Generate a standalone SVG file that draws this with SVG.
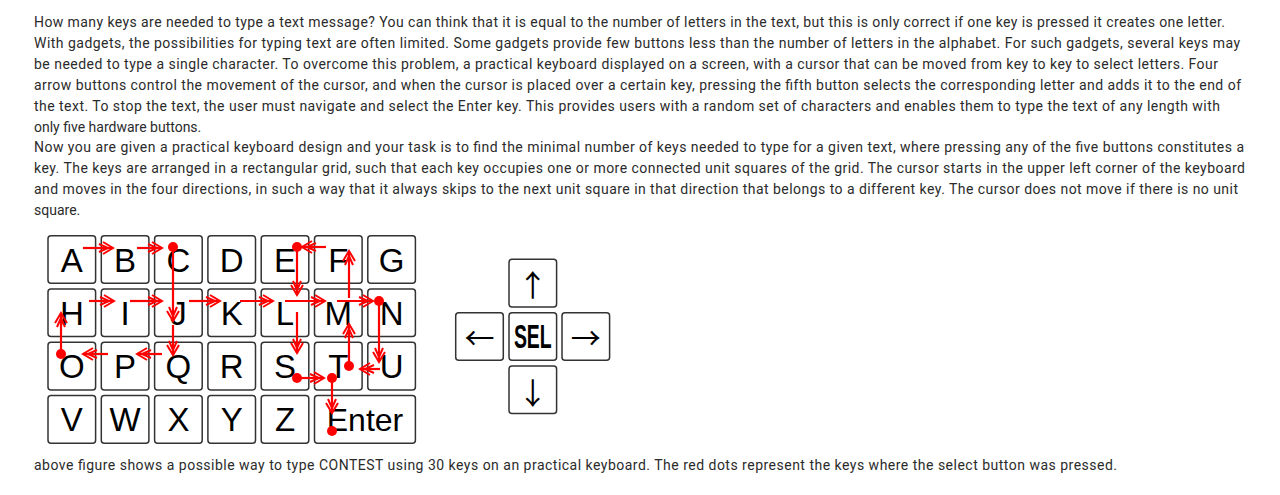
<svg xmlns="http://www.w3.org/2000/svg" width="1280" height="495" viewBox="0 0 1280 495">
<style>
.p{font-family:Roboto,"Liberation Sans",sans-serif;font-size:14px;fill:#2b2b2b}
.k{fill:#fff;stroke:#333;stroke-width:1.5}
.l{font-family:"Liberation Sans",Arial,sans-serif;font-size:33px;fill:#000;text-anchor:middle}
.ar{font-family:"Noto Sans CJK SC","DejaVu Sans",sans-serif;font-size:30px;fill:#000;text-anchor:middle}
.c line{stroke:#f00;stroke-width:2.2;marker-end:url(#ah)}
.d circle{fill:#f00}
</style>
<defs>
<marker id="ah" markerUnits="userSpaceOnUse" viewBox="0 0 12 12" refX="11" refY="6" markerWidth="12" markerHeight="12" orient="auto" overflow="visible">
<path d="M1,0 L11,6 L1,12 M-3,2 L6,6 L-3,10" fill="none" stroke="#f00" stroke-width="2"/>
</marker>
</defs>
<rect width="1280" height="495" fill="#fff"/>
<g id="description">
<text class="p" x="34" y="27" textLength="1191" lengthAdjust="spacing">How many keys are needed to type a text message? You can think that it is equal to the number of letters in the text, but this is only correct if one key is pressed it creates one letter.</text>
<text class="p" x="34" y="48" textLength="1206" lengthAdjust="spacing">With gadgets, the possibilities for typing text are often limited. Some gadgets provide few buttons less than the number of letters in the alphabet. For such gadgets, several keys may</text>
<text class="p" x="34" y="69" textLength="1184" lengthAdjust="spacing">be needed to type a single character. To overcome this problem, a practical keyboard displayed on a screen, with a cursor that can be moved from key to key to select letters. Four</text>
<text class="p" x="34" y="90" textLength="1207" lengthAdjust="spacing">arrow buttons control the movement of the cursor, and when the cursor is placed over a certain key, pressing the fifth button selects the corresponding letter and adds it to the end of</text>
<text class="p" x="34" y="110.5" textLength="1186" lengthAdjust="spacing">the text. To stop the text, the user must navigate and select the Enter key. This provides users with a random set of characters and enables them to type the text of any length with</text>
<text class="p" x="34" y="131.5">only five hardware buttons.</text>
<text class="p" x="34" y="152" textLength="1210" lengthAdjust="spacing">Now you are given a practical keyboard design and your task is to find the minimal number of keys needed to type for a given text, where pressing any of the five buttons constitutes a</text>
<text class="p" x="34" y="173" textLength="1211" lengthAdjust="spacing">key. The keys are arranged in a rectangular grid, such that each key occupies one or more connected unit squares of the grid. The cursor starts in the upper left corner of the keyboard</text>
<text class="p" x="34" y="193.5" textLength="1204" lengthAdjust="spacing">and moves in the four directions, in such a way that it always skips to the next unit square in that direction that belongs to a different key. The cursor does not move if there is no unit</text>
<text class="p" x="34" y="214.5">square.</text>
</g>
<g id="keyboard">
<g id="key-A"><rect class="k" x="48" y="235.7" width="47.6" height="47.6" rx="3"/><text class="l" x="71.8" y="271.5">A</text></g>
<g id="key-B"><rect class="k" x="101.3" y="235.7" width="47.6" height="47.6" rx="3"/><text class="l" x="125.1" y="271.5">B</text></g>
<g id="key-C"><rect class="k" x="154.6" y="235.7" width="47.6" height="47.6" rx="3"/><text class="l" x="178.4" y="271.5">C</text></g>
<g id="key-D"><rect class="k" x="207.9" y="235.7" width="47.6" height="47.6" rx="3"/><text class="l" x="231.7" y="271.5">D</text></g>
<g id="key-E"><rect class="k" x="261.2" y="235.7" width="47.6" height="47.6" rx="3"/><text class="l" x="285" y="271.5">E</text></g>
<g id="key-F"><rect class="k" x="314.5" y="235.7" width="47.6" height="47.6" rx="3"/><text class="l" x="338.3" y="271.5">F</text></g>
<g id="key-G"><rect class="k" x="367.8" y="235.7" width="47.6" height="47.6" rx="3"/><text class="l" x="391.6" y="271.5">G</text></g>
<g id="key-H"><rect class="k" x="48" y="289" width="47.6" height="47.6" rx="3"/><text class="l" x="71.8" y="324.8">H</text></g>
<g id="key-I"><rect class="k" x="101.3" y="289" width="47.6" height="47.6" rx="3"/><text class="l" x="125.1" y="324.8">I</text></g>
<g id="key-J"><rect class="k" x="154.6" y="289" width="47.6" height="47.6" rx="3"/><text class="l" x="178.4" y="324.8">J</text></g>
<g id="key-K"><rect class="k" x="207.9" y="289" width="47.6" height="47.6" rx="3"/><text class="l" x="231.7" y="324.8">K</text></g>
<g id="key-L"><rect class="k" x="261.2" y="289" width="47.6" height="47.6" rx="3"/><text class="l" x="285" y="324.8">L</text></g>
<g id="key-M"><rect class="k" x="314.5" y="289" width="47.6" height="47.6" rx="3"/><text class="l" x="338.3" y="324.8">M</text></g>
<g id="key-N"><rect class="k" x="367.8" y="289" width="47.6" height="47.6" rx="3"/><text class="l" x="391.6" y="324.8">N</text></g>
<g id="key-O"><rect class="k" x="48" y="342.3" width="47.6" height="47.6" rx="3"/><text class="l" x="71.8" y="378.1">O</text></g>
<g id="key-P"><rect class="k" x="101.3" y="342.3" width="47.6" height="47.6" rx="3"/><text class="l" x="125.1" y="378.1">P</text></g>
<g id="key-Q"><rect class="k" x="154.6" y="342.3" width="47.6" height="47.6" rx="3"/><text class="l" x="178.4" y="378.1">Q</text></g>
<g id="key-R"><rect class="k" x="207.9" y="342.3" width="47.6" height="47.6" rx="3"/><text class="l" x="231.7" y="378.1">R</text></g>
<g id="key-S"><rect class="k" x="261.2" y="342.3" width="47.6" height="47.6" rx="3"/><text class="l" x="285" y="378.1">S</text></g>
<g id="key-T"><rect class="k" x="314.5" y="342.3" width="47.6" height="47.6" rx="3"/><text class="l" x="338.3" y="378.1">T</text></g>
<g id="key-U"><rect class="k" x="367.8" y="342.3" width="47.6" height="47.6" rx="3"/><text class="l" x="391.6" y="378.1">U</text></g>
<g id="key-V"><rect class="k" x="48" y="395.6" width="47.6" height="47.6" rx="3"/><text class="l" x="71.8" y="431.4">V</text></g>
<g id="key-W"><rect class="k" x="101.3" y="395.6" width="47.6" height="47.6" rx="3"/><text class="l" x="125.1" y="431.4">W</text></g>
<g id="key-X"><rect class="k" x="154.6" y="395.6" width="47.6" height="47.6" rx="3"/><text class="l" x="178.4" y="431.4">X</text></g>
<g id="key-Y"><rect class="k" x="207.9" y="395.6" width="47.6" height="47.6" rx="3"/><text class="l" x="231.7" y="431.4">Y</text></g>
<g id="key-Z"><rect class="k" x="261.2" y="395.6" width="47.6" height="47.6" rx="3"/><text class="l" x="285" y="431.4">Z</text></g>
<g id="key-Enter"><rect class="k" x="314.5" y="395.6" width="100.9" height="47.6" rx="3"/><text class="l" x="365" y="431.4" style="font-size:32px">Enter</text></g>
</g>
<g id="controls">
<g id="btn-up"><rect class="k" x="509" y="259.3" width="47.6" height="47.6" rx="3"/><text class="ar" x="532.8" y="296">↑</text></g>
<g id="btn-left"><rect class="k" x="455.7" y="312.7" width="47.6" height="47.6" rx="3"/><text class="ar" x="479.5" y="348.7">←</text></g>
<g id="btn-sel"><rect class="k" x="509" y="312.7" width="47.6" height="47.6" rx="3"/><text transform="translate(532.8,348.3) scale(0.59,1)" x="0" y="0" style="font-family:'Liberation Sans',Arial,sans-serif;font-size:33px;font-weight:bold;fill:#000;text-anchor:middle">SEL</text></g>
<g id="btn-right"><rect class="k" x="562" y="312.7" width="47.6" height="47.6" rx="3"/><text class="ar" x="585.8" y="348.7">→</text></g>
<g id="btn-down"><rect class="k" x="509" y="366" width="47.6" height="47.6" rx="3"/><text class="ar" x="532.8" y="404">↓</text></g>
</g>
<g id="connectors" class="c">
<line x1="83" y1="248" x2="113" y2="248"/>
<line x1="137" y1="248" x2="162" y2="248"/>
<line x1="173" y1="250" x2="173" y2="321"/>
<line x1="173" y1="325" x2="173" y2="355"/>
<line x1="162" y1="354" x2="137" y2="354"/>
<line x1="108" y1="354" x2="83" y2="354"/>
<line x1="61" y1="354" x2="61" y2="313"/>
<line x1="89" y1="301" x2="114" y2="301"/>
<line x1="130" y1="301" x2="162" y2="301"/>
<line x1="189" y1="301" x2="220" y2="301"/>
<line x1="240" y1="301" x2="273" y2="301"/>
<line x1="285" y1="301" x2="325" y2="301"/>
<line x1="337" y1="301" x2="373" y2="301"/>
<line x1="379" y1="303" x2="379" y2="362"/>
<line x1="380" y1="369" x2="360" y2="369"/>
<line x1="349" y1="366" x2="349" y2="324"/>
<line x1="349" y1="298" x2="349" y2="251"/>
<line x1="326" y1="247" x2="302" y2="247"/>
<line x1="297" y1="247" x2="297" y2="295"/>
<line x1="297" y1="312" x2="297" y2="353"/>
<line x1="300" y1="378" x2="324" y2="378"/>
<line x1="332" y1="378" x2="332" y2="413"/>
</g>
<g id="select-dots" class="d">
<circle cx="173" cy="247" r="5"/>
<circle cx="61" cy="354" r="5"/>
<circle cx="379" cy="301" r="5"/>
<circle cx="349" cy="366" r="5"/>
<circle cx="297" cy="247" r="5"/>
<circle cx="297" cy="378" r="5"/>
<circle cx="332" cy="378" r="5"/>
<circle cx="332" cy="431" r="5"/>
</g>
<g id="caption">
<text class="p" x="34" y="470" textLength="1083" lengthAdjust="spacing">above figure shows a possible way to type CONTEST using 30 keys on an practical keyboard. The red dots represent the keys where the select button was pressed.</text>
</g>
</svg>
